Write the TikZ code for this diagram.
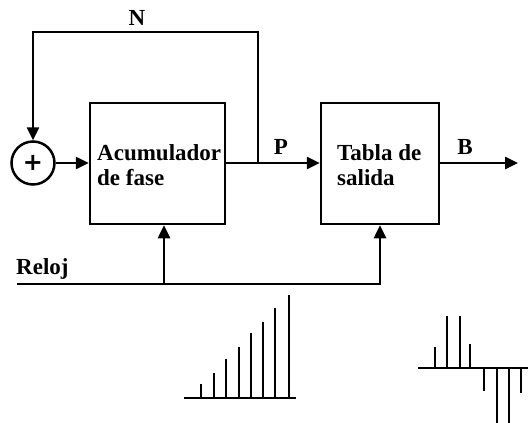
\documentclass[tikz,border=0pt]{standalone}
\usepackage{fontspec}
\setmainfont{Liberation Serif}
\newfontfamily\symfont{DejaVu Sans}
\usetikzlibrary{arrows.meta}
\begin{document}
\begin{tikzpicture}[x=1pt,y=-1pt,
  wire/.style={line width=2.5pt},
  arr/.style={wire,-{Triangle[length=13pt,width=12pt]}},
  blk/.style={draw,line width=2.5pt,minimum width=#1,minimum height=121pt,inner sep=0pt},
  lbl/.style={font=\fontsize{23}{27}\selectfont\bfseries,inner sep=0pt},
  stem/.style={line width=2.5pt}]
\useasboundingbox (0,0) rectangle (528,423);
% blocks
\node[blk=135pt] (acc) at (157.5,163.5) {};
\node[blk=118pt] (tab) at (380,163.5) {};
\node[circle,draw,line width=2.5pt,minimum size=43pt,inner sep=0pt] (sum) at (33,163) {};
\node[inner sep=0pt,font=\symfont\bfseries\fontsize{24}{24}\selectfont] (plus) at (33,163) {+};
% block texts
\node[lbl,anchor=base west] (t1) at (97,160) {Acumulador};
\node[lbl,anchor=base west] (t2) at (97,185) {de fase};
\node[lbl,anchor=base west] (t3) at (337,160) {Tabla de};
\node[lbl,anchor=base west] (t4) at (337,185) {salida};
% labels
\node[lbl] (N) at (137,18) {N};
\node[lbl] (P) at (281,147) {P};
\node[lbl] (B) at (465,147) {B};
\node[lbl,anchor=base west] (R) at (16,274) {Reloj};
% connectors
\coordinate (fb) at (258,163);
\coordinate (fbtop) at (258,32);
\coordinate (out) at (518,163);
\coordinate (clkL) at (17,284);
\coordinate (clk1) at (164,284);
\draw[arr] (sum.east) -- (sum.east -| acc.west);
\draw[arr] (acc.east |- sum) -- (tab.west |- sum);
\draw[arr] (fb) -- (fbtop) -| (sum.north);
\draw[arr] (tab.east |- sum) -- (out);
\draw[arr] (clkL) -| (tab.south);
\draw[arr] (clk1) -- (clk1 |- acc.south);
% ramp samples
\draw[stem] (184,398) -- (296,398);
\foreach \x/\t in {201/384,214/373,226/359,239/347,251/333,263/322,275/308,289/295}
  \draw[stem] (\x,398) -- (\x,\t);
% sine samples
\draw[stem] (418,368) -- (528,368);
\foreach \x/\t in {435/347,447/316,460/316,470/344,484/391,497/425,509/425,521/393}
  \draw[stem] (\x,368) -- (\x,\t);
\end{tikzpicture}
\end{document}
